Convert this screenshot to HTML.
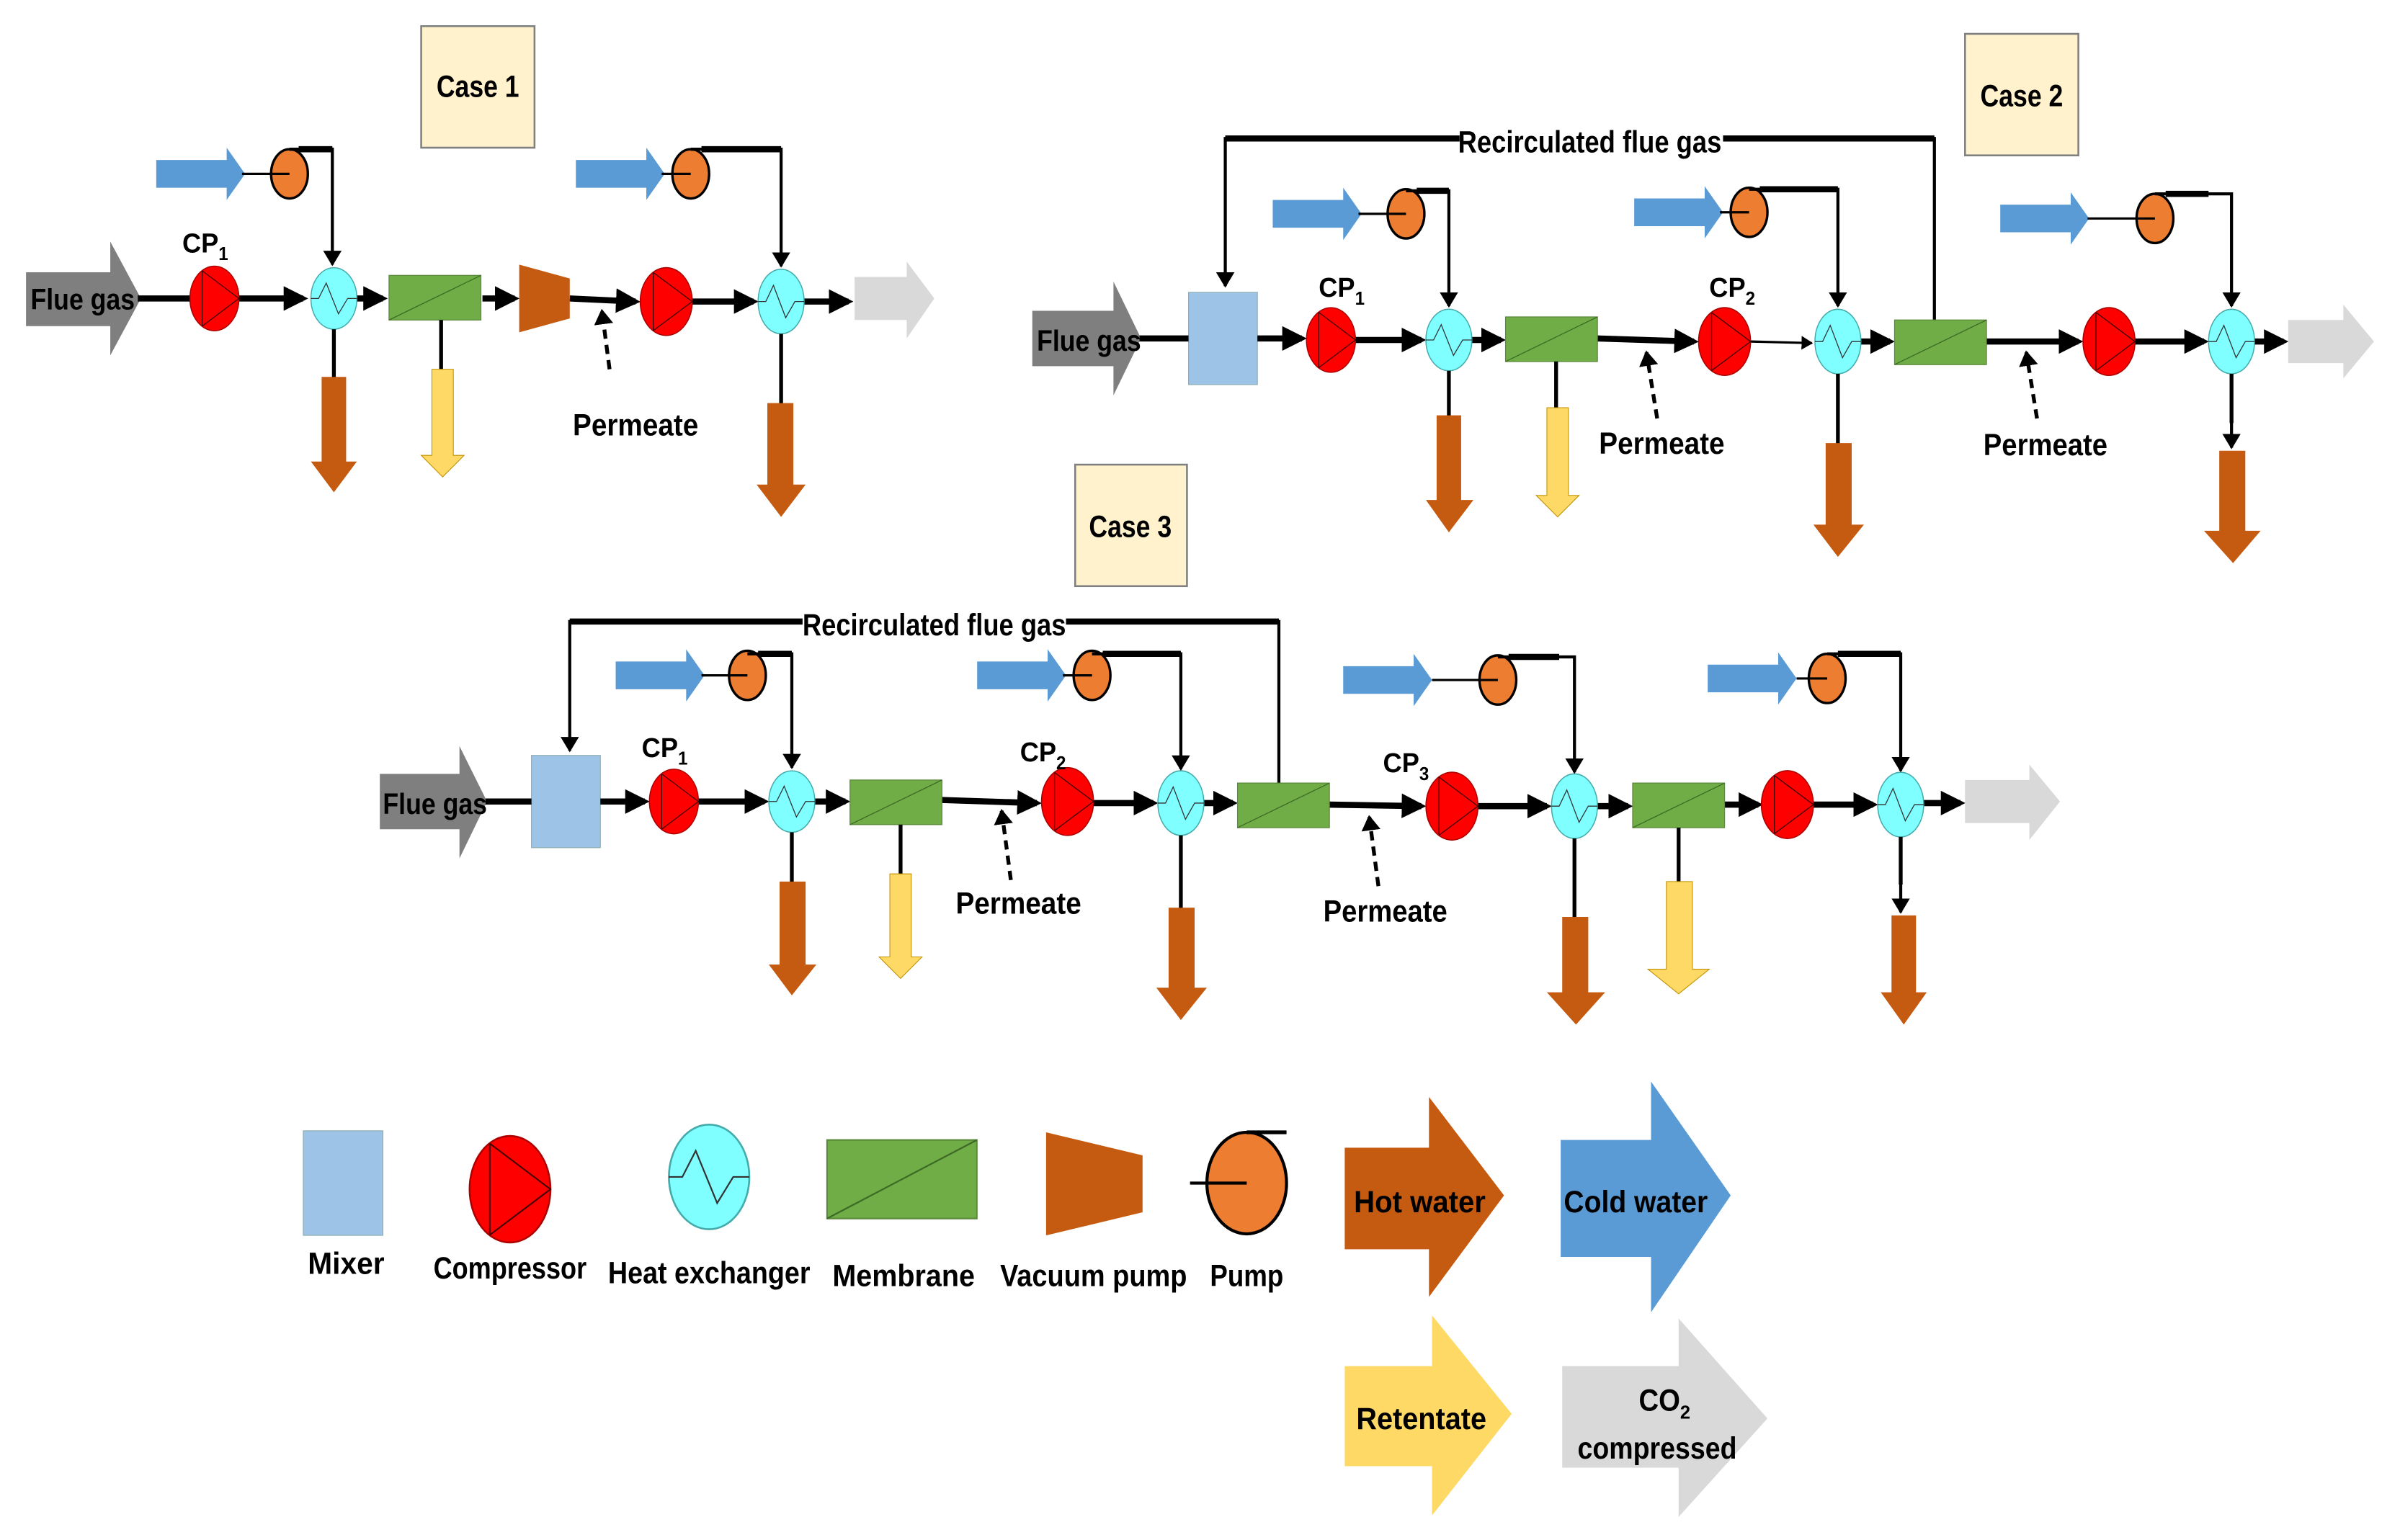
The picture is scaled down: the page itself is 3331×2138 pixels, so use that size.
<!DOCTYPE html>
<html><head><meta charset="utf-8"><style>
html,body{margin:0;padding:0;background:#fff}
svg{display:block}
text{font-family:"Liberation Sans",sans-serif;font-weight:bold;fill:#000}
</style></head><body>
<svg width="3331" height="2138" viewBox="0 0 1567 1001" preserveAspectRatio="none" xmlns="http://www.w3.org/2000/svg">
<defs>
<marker id="ah" markerWidth="4" markerHeight="4" refX="3.2" refY="2" orient="auto" markerUnits="strokeWidth"><path d="M0,0L4,2L0,4z" fill="#000"/></marker>
<marker id="ah2" markerWidth="5" markerHeight="6" refX="4.5" refY="3" orient="auto" markerUnits="strokeWidth"><path d="M0,0L5,3L0,6z" fill="#000"/></marker>
<marker id="ah3" markerWidth="4" markerHeight="5" refX="3.5" refY="2.5" orient="auto" markerUnits="strokeWidth"><path d="M0,0L4,2.5L0,5z" fill="#000"/></marker>
<g id="cp"><ellipse rx="16" ry="21" fill="#f00" stroke="#a00" stroke-width=".7"/><path d="M-8,-18V18M-8,-18L16,0L-8,18" stroke="#400" stroke-width=".6" fill="none"/></g>
<g id="hx"><ellipse rx="15" ry="20" fill="#7fffff" stroke="#4aa" stroke-width=".7"/><path d="M-15,0H-10L-5,-10L3,10L9,0H15" stroke="#333" stroke-width=".6" fill="none"/></g>
<g id="pump"><ellipse rx="12" ry="16" fill="#ed7d31" stroke="#000" stroke-width="1.6"/></g>
<g id="blue"><polygon points="0,-9 46,-9 46,-17 58,0 46,17 46,9 0,9" fill="#5b9bd5"/></g>
<g id="mem"><rect x="0" y="0" width="60" height="29" fill="#70ad47" stroke="#5a8a3a" stroke-width=".6"/><path d="M0,29L60,0" stroke="#3d6b25" stroke-width=".6"/></g>
</defs>

<!-- ================= CASE 1 ================= -->
<rect x="275" y="17" width="74" height="79" fill="#fff2cc" stroke="#7f7f7f" stroke-width="1.2"/>
<text x="312" y="63" font-size="20" text-anchor="middle" textLength="54" lengthAdjust="spacingAndGlyphs">Case 1</text>

<polygon points="17,177 72,177 72,157 92,194 72,231 72,212 17,212" fill="#7f7f7f"/>
<text x="20" y="201" font-size="19" textLength="68" lengthAdjust="spacingAndGlyphs">Flue gas</text>
<g stroke="#000" stroke-width="4" fill="none">
<path d="M90,194H124"/>
<path d="M156,194H198" marker-end="url(#ah)"/>
<path d="M233,194H250" marker-end="url(#ah)"/>
<path d="M315,194H336" marker-end="url(#ah)"/>
<path d="M372,194L415,196" marker-end="url(#ah)"/>
<path d="M452,196H492" marker-end="url(#ah)"/>
<path d="M525,196H554" marker-end="url(#ah)"/>
</g>
<use href="#cp" x="140" y="194"/>
<text x="119" y="164" font-size="18" textLength="30" lengthAdjust="spacingAndGlyphs">CP<tspan font-size="12" dy="5">1</tspan></text>
<use href="#hx" x="218" y="194"/>
<use href="#mem" x="254" y="179"/>
<polygon points="339,172 372,181 372,207 339,216" fill="#c55a11"/>
<use href="#cp" transform="translate(435,196) scale(1.06,1.05)"/>
<use href="#hx" transform="translate(510,196) scale(1,1.05)"/>
<polygon points="558,180 592,180 592,170 610,194 592,220 592,208 558,208" fill="#d9d9d9"/>
<path d="M398,240L393,202" stroke="#000" stroke-width="2.5" stroke-dasharray="6,4" fill="none" marker-end="url(#ah3)"/>
<text x="374" y="283" font-size="20" textLength="82" lengthAdjust="spacingAndGlyphs">Permeate</text>
<g stroke="#000" stroke-width="2.5" fill="none"><path d="M218,214V246"/><path d="M288,208V241"/><path d="M510,217V263"/></g>
<polygon points="210,245 226,245 226,300 233,300 218,320 203,300 210,300" fill="#c55a11"/>
<polygon points="282,240 296,240 296,296 303,296 289,310 275,296 282,296" fill="#ffd966" stroke="#bf9000" stroke-width=".5"/>
<polygon points="501,262 518,262 518,315 526,315 510,336 494,315 501,315" fill="#c55a11"/>
<!-- pumps case 1 -->
<use href="#blue" x="102" y="113"/><use href="#pump" x="189" y="113"/>
<path d="M158,113H189" stroke="#000" stroke-width="1.5"/>
<path d="M189,97H217V172" stroke="#000" stroke-width="2" fill="none" marker-end="url(#ah2)"/>
<path d="M195,97H217" stroke="#000" stroke-width="4"/>
<use href="#blue" x="376" y="113"/><use href="#pump" x="451" y="113"/>
<path d="M432,113H451" stroke="#000" stroke-width="1.5"/>
<path d="M451,97H510V173" stroke="#000" stroke-width="2" fill="none" marker-end="url(#ah2)"/>
<path d="M458,97H510" stroke="#000" stroke-width="4"/>

<!-- ================= CASE 2 ================= -->
<rect x="1283" y="22" width="74" height="79" fill="#fff2cc" stroke="#7f7f7f" stroke-width="1.2"/>
<text x="1320" y="69" font-size="20" text-anchor="middle" textLength="54" lengthAdjust="spacingAndGlyphs">Case 2</text>
<path d="M1263,208V90H800V186" stroke="#000" stroke-width="2" fill="none" marker-end="url(#ah2)"/>
<path d="M800,90H1263" stroke="#000" stroke-width="4"/>
<rect x="953" y="78" width="172" height="24" fill="#fff"/>
<text x="1038" y="99" font-size="20" text-anchor="middle" textLength="172" lengthAdjust="spacingAndGlyphs">Recirculated flue gas</text>

<polygon points="674,202 727,202 727,183 745,220 727,257 727,238 674,238" fill="#7f7f7f"/>
<text x="677" y="228" font-size="19" textLength="68" lengthAdjust="spacingAndGlyphs">Flue gas</text>
<rect x="776" y="190" width="45" height="60" fill="#9dc3e6" stroke="#8aa" stroke-width=".5"/>
<g stroke="#000" stroke-width="4" fill="none">
<path d="M744,220H776"/>
<path d="M821,220H850" marker-end="url(#ah)"/>
<path d="M885,221H928" marker-end="url(#ah)"/>
<path d="M961,221H980" marker-end="url(#ah)"/>
<path d="M1043,220L1106,222" marker-end="url(#ah)"/>
<path d="M1215,222H1234" marker-end="url(#ah)"/>
<path d="M1297,222H1357" marker-end="url(#ah)"/>
<path d="M1394,222H1439" marker-end="url(#ah)"/>
<path d="M1472,222H1491" marker-end="url(#ah)"/>
</g>
<path d="M1143,222L1183,223" stroke="#000" stroke-width="1.5" marker-end="url(#ah2)"/>
<use href="#cp" x="869" y="221"/>
<text x="861" y="193" font-size="18" textLength="30" lengthAdjust="spacingAndGlyphs">CP<tspan font-size="12" dy="5">1</tspan></text>
<use href="#hx" x="946" y="221"/>
<use href="#mem" x="983" y="206"/>
<use href="#cp" transform="translate(1126,222) scale(1.06,1.05)"/>
<text x="1116" y="193" font-size="18" textLength="30" lengthAdjust="spacingAndGlyphs">CP<tspan font-size="12" dy="5">2</tspan></text>
<use href="#hx" transform="translate(1200,222) scale(1,1.05)"/>
<use href="#mem" x="1237" y="208"/>
<use href="#cp" transform="translate(1377,222) scale(1.06,1.05)"/>
<use href="#hx" transform="translate(1457,222) scale(1,1.05)"/>
<polygon points="1494,208 1530,208 1530,198 1550,222 1530,246 1530,236 1494,236" fill="#d9d9d9"/>
<path d="M1082,272L1075,229" stroke="#000" stroke-width="2.5" stroke-dasharray="6,4" fill="none" marker-end="url(#ah3)"/>
<text x="1044" y="295" font-size="20" textLength="82" lengthAdjust="spacingAndGlyphs">Permeate</text>
<path d="M1330,272L1323,229" stroke="#000" stroke-width="2.5" stroke-dasharray="6,4" fill="none" marker-end="url(#ah3)"/>
<text x="1295" y="296" font-size="20" textLength="81" lengthAdjust="spacingAndGlyphs">Permeate</text>
<g stroke="#000" stroke-width="2.5" fill="none"><path d="M946,241V271"/><path d="M1016,235V266"/><path d="M1200,243V289"/><path d="M1457,243V275"/></g>
<path d="M1457,270V291" stroke="#000" stroke-width="2" marker-end="url(#ah2)"/>
<polygon points="938,270 954,270 954,325 962,325 946,346 931,325 938,325" fill="#c55a11"/>
<polygon points="1010,265 1024,265 1024,322 1031,322 1017,336 1003,322 1010,322" fill="#ffd966" stroke="#bf9000" stroke-width=".5"/>
<polygon points="1192,288 1209,288 1209,341 1217,341 1200,362 1184,341 1192,341" fill="#c55a11"/>
<polygon points="1449,293 1466,293 1466,345 1476,345 1458,366 1439,345 1449,345" fill="#c55a11"/>
<!-- pumps case 2 -->
<use href="#blue" x="831" y="139"/><use href="#pump" x="918" y="139"/>
<path d="M887,139H918" stroke="#000" stroke-width="1.5"/>
<path d="M918,124H946V199" stroke="#000" stroke-width="2" fill="none" marker-end="url(#ah2)"/>
<path d="M925,124H946" stroke="#000" stroke-width="4"/>
<use href="#blue" x="1067" y="138"/><use href="#pump" x="1142" y="138"/>
<path d="M1123,138H1142" stroke="#000" stroke-width="1.5"/>
<path d="M1142,123H1200V199" stroke="#000" stroke-width="2" fill="none" marker-end="url(#ah2)"/>
<path d="M1149,123H1200" stroke="#000" stroke-width="4"/>
<use href="#blue" x="1306" y="142"/><use href="#pump" x="1407" y="142"/>
<path d="M1363,142H1407" stroke="#000" stroke-width="1.5"/>
<path d="M1407,126H1457V199" stroke="#000" stroke-width="2" fill="none" marker-end="url(#ah2)"/>
<path d="M1414,126H1442" stroke="#000" stroke-width="4"/>

<!-- ================= CASE 3 ================= -->
<rect x="702" y="302" width="73" height="79" fill="#fff2cc" stroke="#7f7f7f" stroke-width="1.2"/>
<text x="738" y="349" font-size="20" text-anchor="middle" textLength="54" lengthAdjust="spacingAndGlyphs">Case 3</text>
<path d="M835,510V404H372V488" stroke="#000" stroke-width="2" fill="none" marker-end="url(#ah2)"/>
<path d="M372,404H835" stroke="#000" stroke-width="4"/>
<rect x="524" y="392" width="172" height="24" fill="#fff"/>
<text x="610" y="413" font-size="20" text-anchor="middle" textLength="172" lengthAdjust="spacingAndGlyphs">Recirculated flue gas</text>

<polygon points="248,503 300,503 300,485 318,521 300,558 300,539 248,539" fill="#7f7f7f"/>
<text x="250" y="529" font-size="19" textLength="68" lengthAdjust="spacingAndGlyphs">Flue gas</text>
<rect x="347" y="491" width="45" height="60" fill="#9dc3e6" stroke="#8aa" stroke-width=".5"/>
<g stroke="#000" stroke-width="4" fill="none">
<path d="M317,521H347"/>
<path d="M392,521H421" marker-end="url(#ah)"/>
<path d="M456,521H499" marker-end="url(#ah)"/>
<path d="M532,521H552" marker-end="url(#ah)"/>
<path d="M615,520L677,522" marker-end="url(#ah)"/>
<path d="M714,522H753" marker-end="url(#ah)"/>
<path d="M786,522H805" marker-end="url(#ah)"/>
<path d="M868,523L928,524" marker-end="url(#ah)"/>
<path d="M965,524H1010" marker-end="url(#ah)"/>
<path d="M1043,524H1063" marker-end="url(#ah)"/>
<path d="M1126,523H1148" marker-end="url(#ah)"/>
<path d="M1184,523H1223" marker-end="url(#ah)"/>
<path d="M1256,522H1280" marker-end="url(#ah)"/>
</g>
<use href="#cp" x="440" y="521"/>
<text x="419" y="492" font-size="18" textLength="30" lengthAdjust="spacingAndGlyphs">CP<tspan font-size="12" dy="5">1</tspan></text>
<use href="#hx" x="517" y="521"/>
<use href="#mem" x="555" y="507"/>
<use href="#cp" transform="translate(697,521) scale(1.06,1.05)"/>
<text x="666" y="495" font-size="18" textLength="30" lengthAdjust="spacingAndGlyphs">CP<tspan font-size="12" dy="5">2</tspan></text>
<use href="#hx" transform="translate(771,522) scale(1,1.05)"/>
<use href="#mem" x="808" y="509"/>
<use href="#cp" transform="translate(948,524) scale(1.06,1.05)"/>
<text x="903" y="502" font-size="18" textLength="30" lengthAdjust="spacingAndGlyphs">CP<tspan font-size="12" dy="5">3</tspan></text>
<use href="#hx" transform="translate(1028,524) scale(1,1.05)"/>
<use href="#mem" x="1066" y="509"/>
<use href="#cp" transform="translate(1167,523) scale(1.06,1.05)"/>
<use href="#hx" transform="translate(1241,523) scale(1,1.05)"/>
<polygon points="1283,507 1325,507 1325,497 1345,521 1325,546 1325,535 1283,535" fill="#d9d9d9"/>
<path d="M660,572L654,527" stroke="#000" stroke-width="2.5" stroke-dasharray="6,4" fill="none" marker-end="url(#ah3)"/>
<text x="624" y="594" font-size="20" textLength="82" lengthAdjust="spacingAndGlyphs">Permeate</text>
<path d="M900,576L894,531" stroke="#000" stroke-width="2.5" stroke-dasharray="6,4" fill="none" marker-end="url(#ah3)"/>
<text x="864" y="599" font-size="20" textLength="81" lengthAdjust="spacingAndGlyphs">Permeate</text>
<g stroke="#000" stroke-width="2.5" fill="none"><path d="M517,541V574"/><path d="M588,536V569"/><path d="M771,543V591"/><path d="M1028,545V597"/><path d="M1096,538V574"/><path d="M1241,544V575"/></g>
<path d="M1241,570V593" stroke="#000" stroke-width="2" marker-end="url(#ah2)"/>
<polygon points="509,573 526,573 526,627 533,627 517,647 502,627 509,627" fill="#c55a11"/>
<polygon points="581,568 595,568 595,622 602,622 588,636 574,622 581,622" fill="#ffd966" stroke="#bf9000" stroke-width=".5"/>
<polygon points="763,590 780,590 780,642 788,642 771,663 755,642 763,642" fill="#c55a11"/>
<polygon points="1020,596 1037,596 1037,645 1048,645 1029,666 1010,645 1020,645" fill="#c55a11"/>
<polygon points="1088,573 1105,573 1105,630 1116,630 1096,646 1076,630 1088,630" fill="#ffd966" stroke="#bf9000" stroke-width=".5"/>
<polygon points="1235,595 1251,595 1251,645 1258,645 1243,666 1228,645 1235,645" fill="#c55a11"/>
<!-- pumps case 3 -->
<use href="#blue" x="402" y="439"/><use href="#pump" x="488" y="439"/>
<path d="M458,439H488" stroke="#000" stroke-width="1.5"/>
<path d="M488,425H517V499" stroke="#000" stroke-width="2" fill="none" marker-end="url(#ah2)"/>
<path d="M495,425H517" stroke="#000" stroke-width="4"/>
<use href="#blue" x="638" y="439"/><use href="#pump" x="713" y="439"/>
<path d="M694,439H713" stroke="#000" stroke-width="1.5"/>
<path d="M713,425H771V500" stroke="#000" stroke-width="2" fill="none" marker-end="url(#ah2)"/>
<path d="M720,425H771" stroke="#000" stroke-width="4"/>
<use href="#blue" x="877" y="442"/><use href="#pump" x="978" y="442"/>
<path d="M935,442H978" stroke="#000" stroke-width="1.5"/>
<path d="M978,427H1028V502" stroke="#000" stroke-width="2" fill="none" marker-end="url(#ah2)"/>
<path d="M985,427H1018" stroke="#000" stroke-width="4"/>
<use href="#blue" x="1115" y="441"/><use href="#pump" x="1193" y="441"/>
<path d="M1173,441H1193" stroke="#000" stroke-width="1.5"/>
<path d="M1193,425H1241V501" stroke="#000" stroke-width="2" fill="none" marker-end="url(#ah2)"/>
<path d="M1200,425H1241" stroke="#000" stroke-width="4"/>

<!-- ================= LEGEND ================= -->
<rect x="198" y="735" width="52" height="68" fill="#9dc3e6" stroke="#8aa" stroke-width=".5"/>
<text x="226" y="828" font-size="20" text-anchor="middle" textLength="50" lengthAdjust="spacingAndGlyphs">Mixer</text>
<use href="#cp" transform="translate(333,773) scale(1.65,1.65)"/>
<text x="333" y="831" font-size="20" text-anchor="middle" textLength="100" lengthAdjust="spacingAndGlyphs">Compressor</text>
<use href="#hx" transform="translate(463,765) scale(1.75,1.7)"/>
<text x="463" y="834" font-size="20" text-anchor="middle" textLength="132" lengthAdjust="spacingAndGlyphs">Heat exchanger</text>
<g transform="translate(540,741) scale(1.63,1.76)"><use href="#mem"/></g>
<text x="590" y="836" font-size="20" text-anchor="middle" textLength="93" lengthAdjust="spacingAndGlyphs">Membrane</text>
<polygon points="683,736 746,751 746,788 683,803" fill="#c55a11"/>
<text x="714" y="836" font-size="20" text-anchor="middle" textLength="122" lengthAdjust="spacingAndGlyphs">Vacuum pump</text>
<ellipse cx="814" cy="769" rx="26" ry="33" fill="#ed7d31" stroke="#000" stroke-width="2"/>
<path d="M777,769H814" stroke="#000" stroke-width="2"/>
<path d="M814,736H840" stroke="#000" stroke-width="2.5"/>
<text x="814" y="836" font-size="20" text-anchor="middle" textLength="48" lengthAdjust="spacingAndGlyphs">Pump</text>

<polygon points="878,746 933,746 933,713 982,777 933,843 933,812 878,812" fill="#c55a11"/>
<text x="927" y="788" font-size="20" text-anchor="middle" textLength="86" lengthAdjust="spacingAndGlyphs">Hot water</text>
<polygon points="1019,741 1078,741 1078,703 1130,777 1078,853 1078,817 1019,817" fill="#5b9bd5"/>
<text x="1068" y="788" font-size="20" text-anchor="middle" textLength="94" lengthAdjust="spacingAndGlyphs">Cold water</text>
<polygon points="878,888 935,888 935,855 987,919 935,985 935,953 878,953" fill="#ffd966"/>
<text x="928" y="929" font-size="20" text-anchor="middle" textLength="85" lengthAdjust="spacingAndGlyphs">Retentate</text>
<polygon points="1020,888 1096,888 1096,857 1154,922 1096,986 1096,954 1020,954" fill="#d9d9d9"/>
<text x="1070" y="917" font-size="20" textLength="27" lengthAdjust="spacingAndGlyphs">CO</text><text x="1097" y="922" font-size="12">2</text>
<text x="1082" y="948" font-size="20" text-anchor="middle" textLength="104" lengthAdjust="spacingAndGlyphs">compressed</text>
</svg>
</body></html>
